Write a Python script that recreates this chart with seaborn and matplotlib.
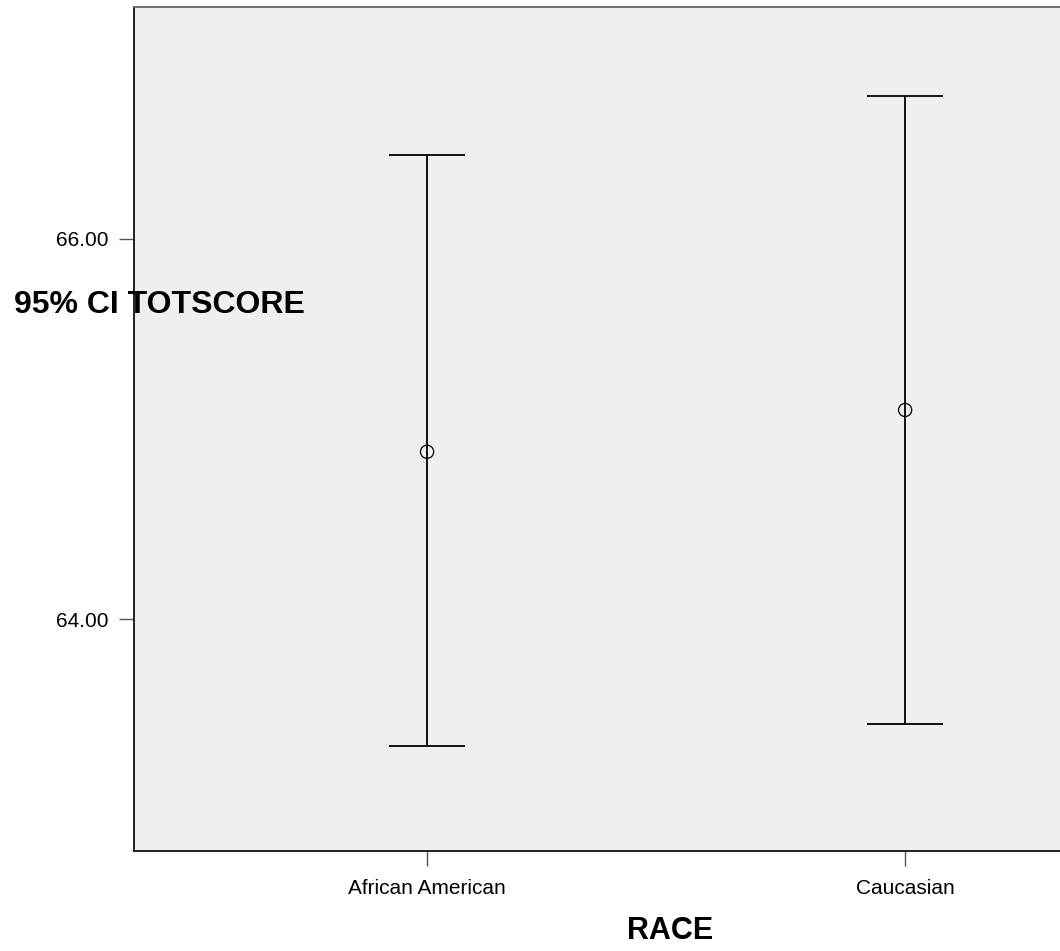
import matplotlib
matplotlib.use("Agg")
from matplotlib import pyplot as plt
import numpy as np
import seaborn as sns

races = ["African American", "Caucasian"]
means = [64.88, 65.10]
ci_lower = [63.33, 63.45]
ci_upper = [66.44, 66.75]

sns.set_style("white")
plt.rcParams['font.family'] = ['Liberation Sans', 'DejaVu Sans']
plt.rcParams['text.color'] = 'black'
plt.rcParams['xtick.color'] = 'black'
plt.rcParams['ytick.color'] = 'black'

fig = plt.figure(figsize=(10.6, 9.51), dpi=100)
ax = fig.add_axes([134 / 1060, 100 / 951, 926 / 1060, 844 / 951])
ax.set_facecolor("#efefef")

means_arr = np.array(means)
yerr = [means_arr - np.array(ci_lower), np.array(ci_upper) - means_arr]
ax.errorbar(x=[0, 1], y=means, yerr=yerr, fmt='none', ecolor='black',
            elinewidth=1.3, capsize=27.7, capthick=1.3, zorder=2)
sns.scatterplot(x=races, y=means, ax=ax, marker='o', s=90,
                facecolor='none', edgecolor='black', linewidth=0.9, zorder=3)

ax.set_xlim(-0.613, 1.324)
ax.set_ylim(62.78, 67.22)
ax.set_xticks([0, 1])
ax.set_xticklabels(races)
ax.set_yticks([64, 66])
ax.set_yticklabels(["64.00", "66.00"])
ax.tick_params(axis='both', length=10.5, width=1, color='#555555',
               labelsize=15, labelcolor='black', direction='out',
               left=True, bottom=True)
ax.tick_params(axis='y', pad=8)
ax.tick_params(axis='x', pad=10)
ax.set_xlabel("")
ax.set_ylabel("")

for side in ['left', 'bottom']:
    ax.spines[side].set_color('#111111')
    ax.spines[side].set_linewidth(1.3)
ax.spines['top'].set_color('#666666')
ax.spines['top'].set_linewidth(1.3)
ax.spines['right'].set_visible(False)

fig.text(14 / 1060, 1 - 305 / 951, "95% CI TOTSCORE", fontsize=23,
         fontweight='bold', ha='left', va='center', color='black')
fig.text(670 / 1060, 1 - 931 / 951, "RACE", fontsize=22,
         fontweight='bold', ha='center', va='center', color='black')

plt.savefig('out.png', dpi=100)
